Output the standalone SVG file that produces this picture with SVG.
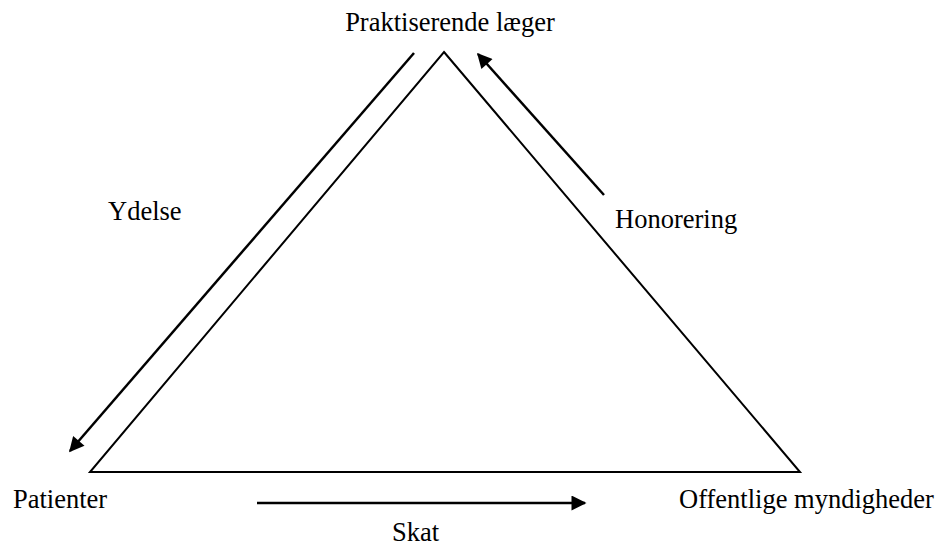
<svg xmlns="http://www.w3.org/2000/svg" width="942" height="546" viewBox="0 0 942 546">
<style>
text{font-family:"Liberation Serif","Times New Roman",serif;font-size:26.5px;fill:#000}
.tri{fill:none;stroke:#000;stroke-width:2}
.arr{stroke:#000;stroke-width:2.5;fill:none;marker-end:url(#ah)}
</style>
<defs>
<marker id="ah" viewBox="0 0 10 10" refX="9" refY="5" markerWidth="7.2" markerHeight="6" orient="auto" markerUnits="strokeWidth"><path d="M0,0L10,5L0,10z" fill="#000"/></marker>
</defs>
<rect width="942" height="546" fill="#fff"/>
<g id="triangle"><path class="tri" d="M444,52L800,472L90,472Z"/></g>
<g id="connectors">
<line class="arr" x1="414" y1="53" x2="70" y2="451"/>
<line class="arr" x1="604" y1="195" x2="478" y2="54"/>
<line class="arr" x1="257" y1="503" x2="585" y2="503"/>
</g>
<g id="n-laeger"><text x="450" y="31" text-anchor="middle">Praktiserende læger</text></g>
<g id="n-patienter"><text x="13" y="508">Patienter</text></g>
<g id="n-offentlige"><text x="679" y="508">Offentlige myndigheder</text></g>
<g id="l-ydelse"><text x="108" y="220">Ydelse</text></g>
<g id="l-honorering"><text x="615" y="228">Honorering</text></g>
<g id="l-skat"><text x="392" y="541">Skat</text></g>
</svg>
